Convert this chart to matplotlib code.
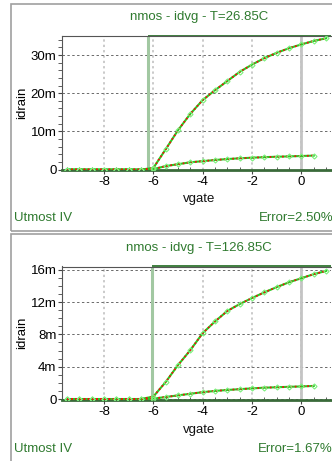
import matplotlib
matplotlib.use("Agg")
import matplotlib.pyplot as plt
from matplotlib.patches import Rectangle
from matplotlib.ticker import FuncFormatter, MultipleLocator

plt.rcParams['font.family'] = ['Liberation Sans', 'DejaVu Sans']
plt.rcParams['axes.unicode_minus'] = False

# vgate sweep (V)
vg_hi = [-9.5, -9.0, -8.5, -8.0, -7.5, -7.0, -6.5, -6.0, -5.5, -5.0, -4.5,
         -4.0, -3.5, -3.0, -2.5, -2.0, -1.5, -1.0, -0.5, 0.0, 0.5, 1.0]
vg_lo = [-9.5, -9.0, -8.5, -8.0, -7.5, -7.0, -6.5, -6.0, -5.5, -5.0, -4.5,
         -4.0, -3.5, -3.0, -2.5, -2.0, -1.5, -1.0, -0.5, 0.0, 0.5]

# idrain in mA, T=26.85C
id27_hi = [0, 0, 0, 0, 0, 0, 0, 0.4, 5.3, 10.3, 14.6,
           18.2, 20.8, 23.2, 25.6, 27.5, 29.2, 30.6, 31.8, 32.8, 33.7, 34.4]
id27_lo = [0, 0, 0, 0, 0, 0, 0, 0.1, 0.9, 1.4, 1.9,
           2.2, 2.5, 2.75, 2.95, 3.1, 3.25, 3.35, 3.45, 3.55, 3.65]

# idrain in mA, T=126.85C
id127_hi = [0, 0, 0, 0, 0, 0, 0, 0.3, 2.1, 4.2, 6.05,
            8.15, 9.6, 10.9, 11.75, 12.5, 13.2, 13.85, 14.45, 14.95, 15.45, 15.85]
id127_lo = [0, 0, 0, 0, 0, 0, 0, 0.05, 0.25, 0.45, 0.65,
            0.85, 1.0, 1.12, 1.22, 1.32, 1.4, 1.46, 1.51, 1.56, 1.62]

panels = [
    dict(title="nmos - idvg - T=26.85C", hi=id27_hi, lo=id27_lo, err="Error=2.50%",
         ylim=(-0.25, 35.0), ymaj=10, ymin=2, vth=-6.2,
         rect=(4, 231), ax=(36, 170.5), tt=17, xl=199, ft=218),
    dict(title="nmos - idvg - T=126.85C", hi=id127_hi, lo=id127_lo, err="Error=1.67%",
         ylim=(-0.12, 16.4), ymaj=4, ymin=1, vth=-6.05,
         rect=(234, 470), ax=(266.5, 400), tt=248, xl=430, ft=449),
]

W, H = 332, 461
fig = plt.figure(figsize=(W / 100, H / 100), dpi=100)
dgreen = '#2f7a2f'

def mfmt(v, pos):
    if abs(v) < 1e-9:
        return "0"
    return "%gm" % v

for p in panels:
    top, bot = p['rect']
    fig.patches.append(Rectangle((11 / W, 1 - bot / H), 1.0, (bot - top) / H,
                                 transform=fig.transFigure, fill=False,
                                 edgecolor='#a0a0a0', lw=1.2))
    at, ab = p['ax']
    ax = fig.add_axes([62 / W, 1 - ab / H, (331 - 62) / W, (ab - at) / H])
    ax.set_xlim(-9.7, 1.2)
    ax.set_ylim(*p['ylim'])

    ax.xaxis.set_major_locator(MultipleLocator(2))
    ax.xaxis.set_minor_locator(MultipleLocator(0.5))
    ax.yaxis.set_major_locator(MultipleLocator(p['ymaj']))
    ax.yaxis.set_minor_locator(MultipleLocator(p['ymin']))
    ax.yaxis.set_major_formatter(FuncFormatter(mfmt))
    ax.tick_params(axis='both', which='major', labelsize=9.5, length=3,
                   direction='out', color='#444444', pad=1)
    ax.tick_params(axis='x', which='minor', length=2.5, direction='in', color='#444444')
    ax.tick_params(axis='y', which='minor', length=3, direction='out', color='#444444')

    for xv in ax.get_xticks():
        if -9.7 < xv < 1.2:
            ax.axvline(xv, color='#bcbcbc', lw=1.1, ls=(0, (1.5, 2)), zorder=0)
    for yv in ax.get_yticks():
        if p['ylim'][0] < yv <= p['ylim'][1]:
            ax.axhline(yv, color='#6a6a6a', lw=0.7, ls=(0, (2.5, 2.5)), zorder=0)

    ax.axvline(0, color='#c4c4c4', lw=2, zorder=1)
    ax.axvline(p['vth'], color='#a2c8a2', lw=2.2, zorder=1)
    # green outline of the fitted region (top and right edges)
    ax.plot([p['vth'], 1.2], [p['ylim'][1], p['ylim'][1]], color='#3f7f3f',
            lw=1.4, zorder=2, clip_on=False, solid_capstyle='butt')

    for xs, ys in [(vg_hi, p['hi']), (vg_lo, p['lo'])]:
        ax.plot(xs, ys, color='#22d022', lw=1.5, zorder=3)
        ax.plot(xs, ys, color='#ee1111', lw=1.3, ls=(0, (1, 1.3)), zorder=4)
        ax.plot(xs, ys, ls='none', marker='D', ms=2.6, mfc='none',
                mec='#7cf07c', mew=0.8, zorder=5)

    for s in ['left', 'top']:
        ax.spines[s].set_color('#555555')
        ax.spines[s].set_linewidth(0.8)
    ax.spines['right'].set_visible(False)
    ax.spines['bottom'].set_color('#3a6a3a')
    ax.spines['bottom'].set_linewidth(2)

    ax.set_ylabel("idrain", fontsize=9.5, labelpad=2)
    fig.text(199 / W, 1 - p['tt'] / H, p['title'], color=dgreen, fontsize=9.5,
             ha='center', va='center')
    fig.text(199 / W, 1 - p['xl'] / H, "vgate", color='#111111', fontsize=9.5,
             ha='center', va='center')
    fig.text(14 / W, 1 - p['ft'] / H, "Utmost IV", color=dgreen, fontsize=9.5,
             ha='left', va='center')
    fig.text(333 / W, 1 - p['ft'] / H, p['err'], color=dgreen, fontsize=9.5,
             ha='right', va='center')

fig.savefig("out.png", dpi=100)
